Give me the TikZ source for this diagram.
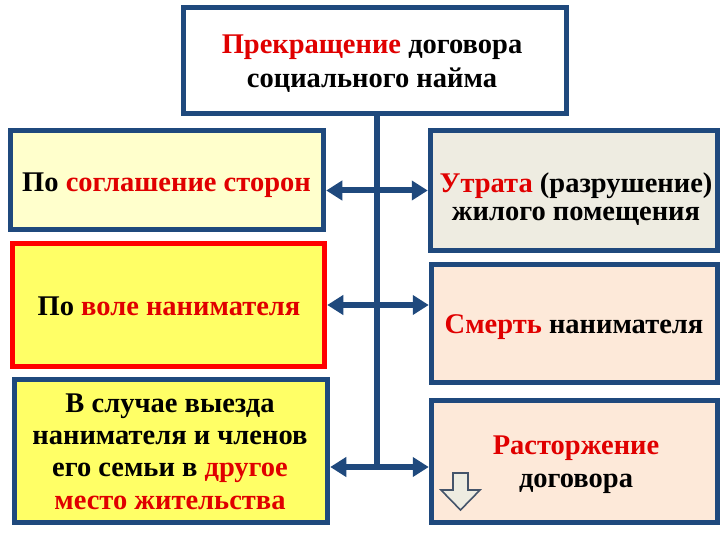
\documentclass[tikz,border=0pt]{standalone}
\usepackage{fontspec}
\setmainfont{Liberation Serif}
\usetikzlibrary{arrows.meta}
\definecolor{dblue}{HTML}{1F497D}
\definecolor{tred}{HTML}{E00000}
\definecolor{bred}{HTML}{FF0000}
\definecolor{lyellow}{HTML}{FFFFCC}
\definecolor{yel}{HTML}{FFFF66}
\definecolor{bgtwo}{HTML}{EEECE1}
\definecolor{peach}{HTML}{FDE9D9}
\definecolor{slate}{HTML}{44546A}
\newcommand{\rd}[1]{\textcolor{tred}{#1}}
\tikzset{
  box/.style={draw=dblue, line width=5.5pt, inner sep=0pt},
  txt/.style={align=center, inner sep=0pt, font=\bfseries\fontsize{28.5}{33}\selectfont},
  conn/.style={draw=dblue, line width=6pt},
  tip/.style={Triangle[length=16pt,width=19pt]},
  dblarrow/.style={conn, {Triangle[length=16pt,width=19pt]}-{Triangle[length=16pt,width=19pt]}},
}
\begin{document}
\begin{tikzpicture}[x=1pt,y=-1pt]
\useasboundingbox[fill=white] (0,0) rectangle (720,540);
% top box
\node[box, fill=white, minimum width=383pt, minimum height=106pt] (top) at (375,60.5) {};
\node[txt, font=\bfseries\fontsize{28.5}{34}\selectfont] (topt) at (372,63.5) {\rd{Прекращение} договора\\социального найма};
% left boxes
\node[box, fill=lyellow, minimum width=313pt, minimum height=99pt] (l1) at (167,180) {};
\node[txt, anchor=base] (l1t) at (166.5,192) {По \rd{соглашение сторон}};
\node[box, draw=bred, fill=yel, minimum width=312pt, minimum height=123pt] (l2) at (168.5,305) {};
\node[txt, anchor=base] (l2t) at (169,315) {По \rd{воле нанимателя}};
\node[box, fill=yel, minimum width=313pt, minimum height=143pt] (l3) at (171,451) {};
\node[txt, font=\bfseries\fontsize{28.5}{32.3}\selectfont] (l3t) at (170,451.5)
  {В случае выезда\\нанимателя и членов\\его семьи в \rd{другое}\\\rd{место жительства}};
% right boxes
\node[box, fill=bgtwo, minimum width=287pt, minimum height=120pt] (r1) at (574,190.5) {};
\node[txt, font=\bfseries\fontsize{28.5}{28.5}\selectfont] (r1t) at (576,199)
  {\rd{Утрата} (разрушение)\\жилого помещения};
\node[box, fill=peach, minimum width=286pt, minimum height=118pt] (r2) at (574.5,323.5) {};
\node[txt, anchor=base] (r2t) at (574,333) {\rd{Смерть} нанимателя};
\node[box, fill=peach, minimum width=286pt, minimum height=122pt] (r3) at (574.5,461.5) {};
\node[txt] (r3t) at (576,464.5) {\rd{Расторжение}\\договора};
% connectors
\coordinate (j3) at (377,467);
\draw[conn] (top.south -| j3) -- (j3);
\draw[dblarrow] (l1.east |- r1.west) -- (r1.west);
\draw[dblarrow] (l2.east) -- (l2.east -| r2.west);
\draw[dblarrow] (l3.east |- j3) -- (r3.west |- j3);
% hollow down arrow
\draw[draw=slate, fill=bgtwo, line width=1.6pt, line join=miter]
  (453,473) -- (468,473) -- (468,490) -- (480,490) -- (460.5,510) -- (441,490) -- (453,490) -- cycle;
\end{tikzpicture}
\end{document}
